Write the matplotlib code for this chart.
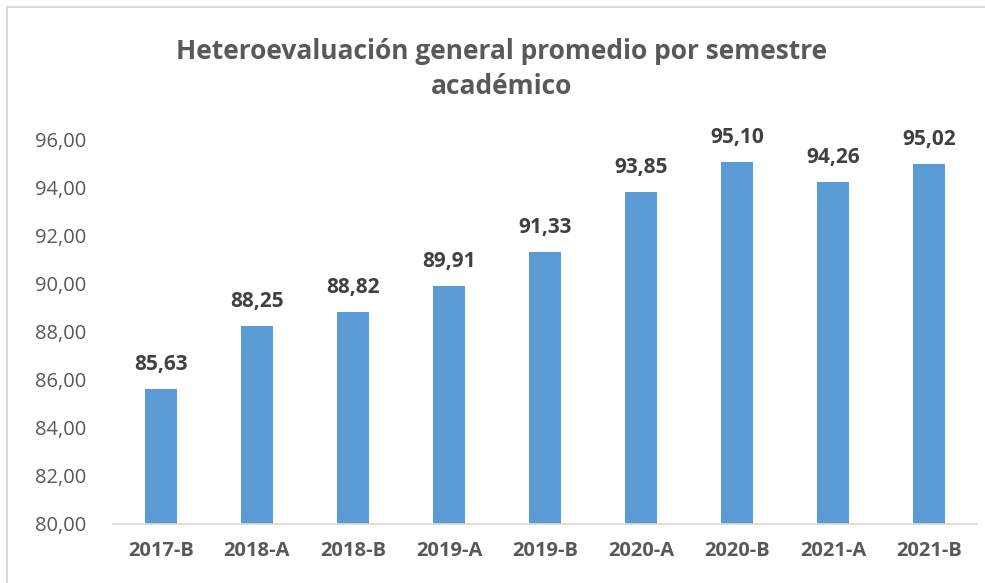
import matplotlib
matplotlib.use("Agg")
import matplotlib.pyplot as plt
from matplotlib.patches import Rectangle

categories = ["2017-B", "2018-A", "2018-B", "2019-A", "2019-B", "2020-A", "2020-B", "2021-A", "2021-B"]
values = [85.63, 88.25, 88.82, 89.91, 91.33, 93.85, 95.10, 94.26, 95.02]
yticks = [80, 82, 84, 86, 88, 90, 92, 94, 96]

plt.rcParams['font.family'] = ['Open Sans', 'DejaVu Sans']

W, H = 985, 583
fig = plt.figure(figsize=(W/100, H/100), dpi=100)
fig.patches.append(Rectangle((7/W, -0.01), 1.0, (H-7)/H + 0.01, transform=fig.transFigure,
                             fill=False, edgecolor='#D9D9D9', linewidth=1.5))

ax = fig.add_axes([113/W, (H-524)/H, 864/W, 384/H])
x = list(range(len(categories)))
ax.bar(x, values, width=0.34, color='#5B9BD5', bottom=0)
ax.set_ylim(80, 96)
ax.set_xlim(-0.5, len(categories) - 0.5)
ax.set_yticks(yticks)
ax.set_yticklabels([f"{v:.2f}".replace('.', ',') for v in yticks], color='#595959', fontsize=14.5)
ax.set_xticks(x)
ax.set_xticklabels(categories, color='#595959', fontsize=14.5, fontweight='bold')
ax.tick_params(axis='both', length=0)
ax.tick_params(axis='y', pad=19)
ax.tick_params(axis='x', pad=12)
for s in ['top', 'right', 'left']:
    ax.spines[s].set_visible(False)
ax.spines['bottom'].set_color('#D9D9D9')
ax.spines['bottom'].set_linewidth(1.2)

for xi, v in zip(x, values):
    ax.annotate(f"{v:.2f}".replace('.', ','), (xi, v), xytext=(0, 10), textcoords='offset points',
                ha='center', va='bottom', fontsize=15, fontweight='bold', color='#404040',
                annotation_clip=False)

fig.text(502/W, 1 - 69/H, "Heteroevaluación general promedio por semestre\nacadémico",
         ha='center', va='center', fontsize=19, fontweight='bold', color='#595959', linespacing=1.35)

fig.savefig("out.png", dpi=100)
